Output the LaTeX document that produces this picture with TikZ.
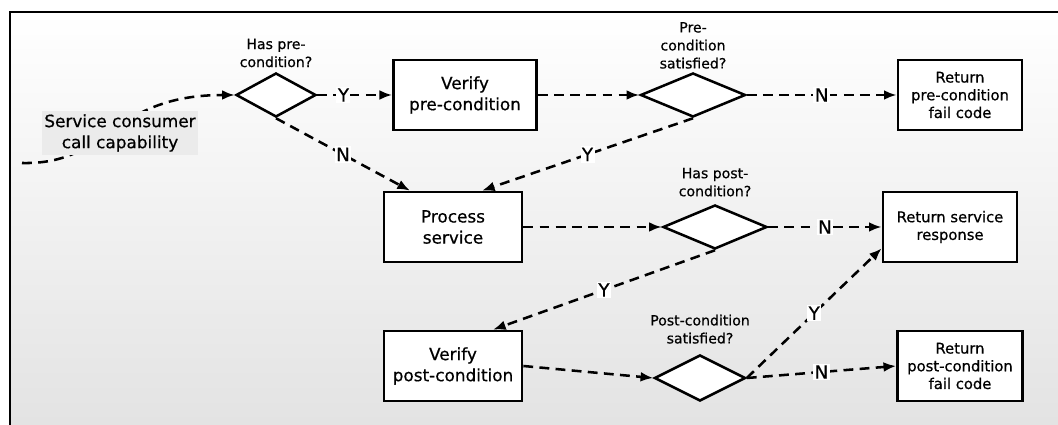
\documentclass[tikz,border=0pt]{standalone}
\usepackage{fontspec}
\setmainfont{DejaVu Sans}[FakeBold=0.6]
\usetikzlibrary{shapes.geometric,arrows.meta,positioning}

\begin{document}
\begin{tikzpicture}[
    x=0.025cm, y=-0.025cm,
    box/.style={rectangle, draw, line width=1.9pt, fill=white, align=center, inner sep=0pt, minimum height=1.75cm, font=\fontsize{12}{15}\selectfont},
    result/.style={box, font=\fontsize{10.5}{12.6}\selectfont},
    decision/.style={diamond, draw, line width=1.8pt, fill=white, inner sep=0pt, minimum height=1.1cm},
    question/.style={align=center, inner sep=1pt, font=\fontsize{10}{12.8}\selectfont},
    flow/.style={-{Latex[length=9pt,width=7pt]}, dash pattern=on 7pt off 4.5pt, line width=1.8pt},
    answer/.style={fill=white, inner sep=1pt, font=\fontsize{13}{13}\selectfont}
]
    \useasboundingbox (0,0) rectangle (1058,425);
    % Frame
    \shade[top color=white, bottom color=black!11] (10,12) rectangle (1058,425);
    \draw[line width=1.6pt] (10,425) -- (10,12) -- (1058,12);

    % Decisions
    \node[decision, minimum width=2cm] (d1) at (276,95) {};
    \node[decision, minimum width=2.625cm] (d2) at (693,95) {};
    \node[decision, minimum width=2.6cm] (d3) at (715,227) {};
    \node[decision, minimum width=2.275cm, minimum height=1.15cm] (d4) at (700,378) {};
    \node[question, above=2pt of d1] (q1) {Has pre-\\condition?};
    \node[question, above=1pt of d2] (q2) {Pre-\\condition\\satisfied?};
    \node[question, above=4pt of d3] (q3) {Has post-\\condition?};
    \node[question, above=6pt of d4] (q4) {Post-condition\\satisfied?};

    % Boxes
    \node[box, minimum width=3.575cm] (vpre) at (465,95) {Verify\\pre-condition};
    \node[result, minimum width=3.1cm] (rpre) at (960,95) {Return\\pre-condition\\fail code};
    \node[box, minimum width=3.45cm] (proc) at (453,227) {Process\\service};
    \node[result, minimum width=3.35cm] (rsvc) at (950,227) {Return service\\response};
    \node[box, minimum width=3.45cm] (vpost) at (453,366) {Verify\\post-condition};
    \node[result, minimum width=3.125cm] (rpost) at (960,366) {Return\\post-condition\\fail code};

    % Call
    \coordinate (src) at (22,163);
    \draw[flow] (src) .. controls (110,165) and (110,95) .. (d1.west);
    \node[fill=black!8, align=center, inner sep=2pt, font=\fontsize{12}{15}\selectfont] (caller) at (120,133) {Service consumer\\call capability};

    % Arrows
    \draw[flow] (d1.east) -- node[answer, pos=0.35] {Y} (vpre.west);
    \draw[flow] (d1.south) -- node[answer] {N} ([xshift=-1.075cm]proc.north);
    \draw[flow] (vpre.east) -- (d2.west);
    \draw[flow] (d2.east) -- node[answer] {N} (rpre.west);
    \draw[flow] (d2.south) -- node[answer] {Y} ([xshift=0.725cm]proc.north);
    \draw[flow] (proc.east) -- (d3.west);
    \draw[flow] (d3.east) -- node[answer] {N} (rsvc.west);
    \draw[flow] (d3.south) -- node[answer] {Y} ([xshift=1cm]vpost.north);
    \draw[flow] (vpost.east) -- (d4.west);
    \draw[flow] (d4.east) -- node[answer] {Y} ([yshift=0.375cm]rsvc.south west);
    \draw[flow] (d4.east) -- node[answer] {N} (rpost.west);
\end{tikzpicture}
\end{document}
